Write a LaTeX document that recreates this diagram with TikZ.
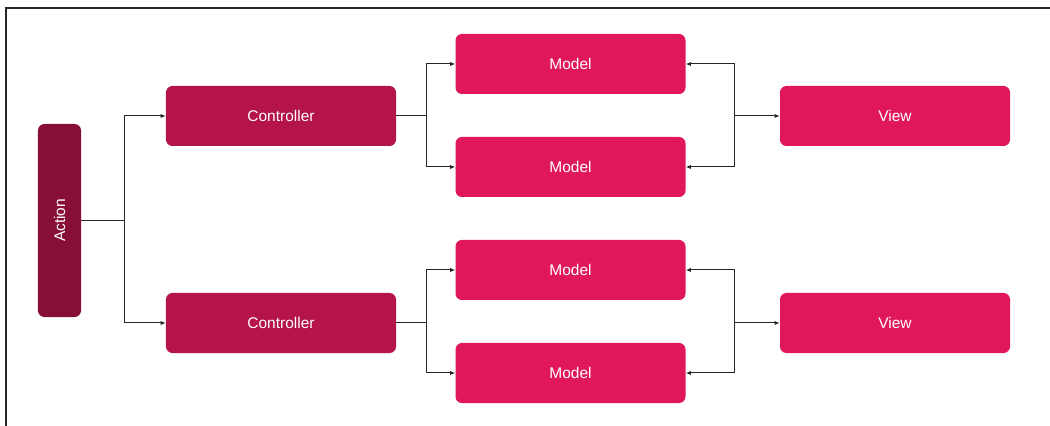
\documentclass[tikz,border=0pt]{standalone}
\usepackage{fontspec}
\setmainfont{Liberation Sans}
\usetikzlibrary{arrows.meta,positioning}

\definecolor{actioncol}{RGB}{136,14,58}
\definecolor{ctrlcol}{RGB}{181,20,72}
\definecolor{modelcol}{RGB}{224,24,91}

\begin{document}
\begin{tikzpicture}[x=0.25mm, y=-0.25mm,
    box/.style={rectangle, rounded corners=1.6mm, text=white, inner sep=0pt,
      minimum width=57.5mm, minimum height=15mm, font=\fontsize{11pt}{13pt}\selectfont},
    link/.style={black!85, line width=0.25mm},
    arr/.style={link, -{Latex[length=1.3mm, width=1.1mm]}}]
  \useasboundingbox (0,0) rectangle (1050,426);
  \draw[black!85, line width=0.55mm] (6,426) -- (6,8) -- (1050,8);

  \node[box, fill=actioncol, minimum width=10.75mm, minimum height=48.25mm] at (59.5, 220.5) (action) {\rotatebox{90}{Action}};
  \node[box, fill=ctrlcol] at (281, 116) (ctrl0) {Controller};
  \node[box, fill=ctrlcol] at (281, 323) (ctrl1) {Controller};
  \node[box, fill=modelcol] at (570.5, 64) (model0) {Model};
  \node[box, fill=modelcol] at (570.5, 167) (model1) {Model};
  \node[box, fill=modelcol] at (570.5, 270) (model2) {Model};
  \node[box, fill=modelcol] at (570.5, 373) (model3) {Model};
  \node[box, fill=modelcol] at (895, 116) (view0) {View};
  \node[box, fill=modelcol] at (895, 323) (view1) {View};

  \coordinate (split) at (124, 220.5);
  \coordinate (split0) at (426, 116);
  \coordinate (split1) at (426, 323);
  \coordinate (join0) at (734, 116);
  \coordinate (join1) at (734, 323);

  \draw[link] (action.east) -- (split);
  \draw[arr] (split) |- (ctrl0.west);
  \draw[arr] (split) |- (ctrl1.west);

  \draw[link] (ctrl0.east) -- (split0);
  \draw[arr] (split0) |- (model0.west);
  \draw[arr] (split0) |- (model1.west);
  \draw[link] (ctrl1.east) -- (split1);
  \draw[arr] (split1) |- (model2.west);
  \draw[arr] (split1) |- (model3.west);

  \draw[arr] (join0) -- (view0.west);
  \draw[arr] (join0) |- (model0.east);
  \draw[arr] (join0) |- (model1.east);
  \draw[arr] (join1) -- (view1.west);
  \draw[arr] (join1) |- (model2.east);
  \draw[arr] (join1) |- (model3.east);
\end{tikzpicture}
\end{document}
